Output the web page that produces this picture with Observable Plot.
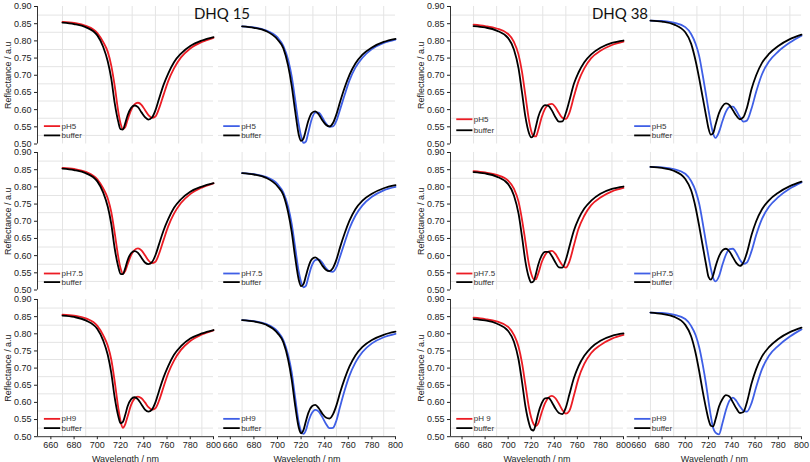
<!DOCTYPE html>
<html><head><meta charset="utf-8">
<script src="https://cdn.jsdelivr.net/npm/d3@7"></script>
<script src="https://cdn.jsdelivr.net/npm/@observablehq/plot@0.6"></script>
<style>
body{margin:0;background:#fff;}
#chart{position:relative;width:810px;height:462px;overflow:hidden;background:#fff;font-family:"Liberation Sans",Arial,sans-serif;}
#chart > svg{position:absolute;}
</style></head>
<body><div id="chart"></div>
<script>
// Wavelength grid (nm)
const wavelength = [670,680,690,700,705,709,712,715,718,720,722,724,726,729,732,735,738,741,744,747,750,753,757,761,766,772,780,790,800];
const xTicks = [660,680,700,720,740,760,780,800];
const yTicks = [0.50,0.55,0.60,0.65,0.70,0.75,0.80,0.85,0.90];
const xGrid = [670,690,710,730,750,770,790];
const yGrid = [0.525,0.575,0.625,0.675,0.725,0.775,0.825,0.875];
const groups = ["DHQ 15","DHQ 38"];
const legendLabels = ["pH5","pH7.5","pH9","pH 9","buffer"];

// DHQ 15, red panels (left column)
const dhq15a_pH5      = [0.855,0.852,0.844,0.823,0.797,0.768,0.728,0.668,0.595,0.560,0.544,0.549,0.570,0.598,0.615,0.620,0.614,0.599,0.584,0.576,0.580,0.602,0.643,0.683,0.720,0.752,0.778,0.797,0.809];
const dhq15a_pH5_buf  = [0.853,0.849,0.840,0.816,0.783,0.740,0.690,0.618,0.565,0.543,0.542,0.560,0.583,0.605,0.612,0.607,0.592,0.578,0.571,0.577,0.598,0.630,0.672,0.705,0.738,0.763,0.785,0.801,0.811];
const dhq15a_pH75     = [0.855,0.852,0.844,0.822,0.796,0.766,0.727,0.665,0.597,0.563,0.548,0.555,0.574,0.601,0.616,0.621,0.615,0.601,0.586,0.578,0.582,0.604,0.645,0.685,0.722,0.753,0.779,0.798,0.810];
const dhq15a_pH75_buf = [0.853,0.849,0.840,0.816,0.784,0.742,0.692,0.620,0.568,0.547,0.546,0.563,0.586,0.607,0.613,0.608,0.594,0.580,0.575,0.581,0.601,0.632,0.673,0.706,0.739,0.764,0.786,0.801,0.811];
const dhq15a_pH9      = [0.856,0.853,0.845,0.823,0.796,0.765,0.725,0.660,0.585,0.545,0.526,0.536,0.558,0.592,0.611,0.617,0.612,0.600,0.586,0.579,0.583,0.604,0.645,0.685,0.722,0.753,0.779,0.798,0.810];
const dhq15a_pH9_buf  = [0.853,0.849,0.839,0.814,0.781,0.738,0.686,0.613,0.560,0.539,0.543,0.563,0.588,0.609,0.615,0.609,0.594,0.579,0.573,0.579,0.600,0.632,0.673,0.706,0.739,0.764,0.786,0.801,0.811];
// DHQ 15, blue panels
const dhq15b_pH5      = [0.842,0.839,0.831,0.810,0.785,0.745,0.697,0.628,0.557,0.523,0.503,0.507,0.532,0.572,0.591,0.591,0.577,0.560,0.550,0.551,0.568,0.600,0.644,0.685,0.722,0.751,0.776,0.794,0.804];
const dhq15b_pH5_buf  = [0.842,0.838,0.829,0.804,0.778,0.728,0.670,0.595,0.527,0.509,0.516,0.540,0.566,0.590,0.595,0.586,0.569,0.556,0.551,0.561,0.587,0.622,0.665,0.701,0.734,0.760,0.781,0.797,0.806];
const dhq15b_pH75     = [0.840,0.837,0.829,0.808,0.783,0.742,0.693,0.623,0.553,0.523,0.508,0.512,0.535,0.570,0.587,0.589,0.579,0.564,0.555,0.553,0.567,0.597,0.639,0.679,0.716,0.746,0.771,0.790,0.800];
const dhq15b_pH75_buf = [0.840,0.836,0.827,0.802,0.776,0.726,0.670,0.594,0.530,0.511,0.517,0.540,0.565,0.589,0.595,0.587,0.571,0.559,0.555,0.564,0.589,0.624,0.666,0.702,0.735,0.760,0.780,0.796,0.805];
const dhq15b_pH9      = [0.840,0.837,0.829,0.807,0.781,0.738,0.688,0.613,0.542,0.515,0.508,0.518,0.542,0.568,0.578,0.573,0.557,0.538,0.525,0.526,0.548,0.587,0.636,0.678,0.716,0.747,0.772,0.790,0.800];
const dhq15b_pH9_buf  = [0.840,0.836,0.827,0.802,0.775,0.725,0.667,0.590,0.527,0.510,0.519,0.544,0.568,0.588,0.593,0.583,0.567,0.556,0.553,0.565,0.592,0.628,0.670,0.705,0.737,0.762,0.782,0.797,0.806];
// DHQ 38, red panels
const dhq38a_pH5      = [0.847,0.843,0.836,0.820,0.797,0.760,0.710,0.640,0.570,0.538,0.523,0.522,0.540,0.577,0.603,0.615,0.617,0.607,0.590,0.576,0.573,0.590,0.638,0.683,0.720,0.750,0.771,0.788,0.798];
const dhq38a_pH5_buf  = [0.843,0.839,0.830,0.808,0.775,0.720,0.650,0.578,0.532,0.519,0.525,0.550,0.578,0.603,0.613,0.611,0.597,0.578,0.565,0.566,0.590,0.625,0.675,0.708,0.738,0.761,0.780,0.794,0.801];
const dhq38a_pH75     = [0.846,0.842,0.835,0.818,0.795,0.757,0.705,0.640,0.575,0.547,0.532,0.531,0.547,0.580,0.602,0.612,0.614,0.605,0.588,0.572,0.565,0.582,0.630,0.678,0.716,0.747,0.769,0.787,0.797];
const dhq38a_pH75_buf = [0.843,0.839,0.830,0.808,0.775,0.722,0.655,0.582,0.536,0.522,0.525,0.546,0.573,0.600,0.611,0.611,0.598,0.580,0.566,0.565,0.588,0.625,0.673,0.707,0.737,0.760,0.780,0.794,0.801];
const dhq38a_pH9      = [0.847,0.843,0.836,0.820,0.797,0.762,0.715,0.650,0.585,0.555,0.537,0.531,0.538,0.570,0.598,0.614,0.619,0.612,0.596,0.578,0.567,0.575,0.620,0.670,0.712,0.744,0.767,0.786,0.797];
const dhq38a_pH9_buf  = [0.843,0.839,0.830,0.808,0.777,0.725,0.660,0.588,0.540,0.521,0.518,0.538,0.567,0.597,0.612,0.613,0.600,0.582,0.569,0.566,0.585,0.622,0.671,0.706,0.736,0.760,0.780,0.794,0.801];
// DHQ 38, blue panels
const dhq38b_pH5      = [0.859,0.858,0.853,0.840,0.820,0.790,0.755,0.700,0.640,0.598,0.560,0.530,0.518,0.535,0.567,0.594,0.608,0.609,0.596,0.578,0.565,0.568,0.603,0.652,0.703,0.740,0.769,0.795,0.815];
const dhq38b_pH5_buf  = [0.859,0.856,0.848,0.825,0.792,0.740,0.690,0.635,0.580,0.545,0.527,0.532,0.556,0.590,0.610,0.618,0.613,0.598,0.582,0.572,0.578,0.605,0.660,0.700,0.736,0.762,0.785,0.805,0.818];
const dhq38b_pH75     = [0.858,0.857,0.852,0.838,0.817,0.787,0.750,0.695,0.635,0.597,0.562,0.535,0.525,0.540,0.574,0.603,0.619,0.620,0.607,0.588,0.576,0.580,0.613,0.660,0.707,0.742,0.770,0.795,0.813];
const dhq38b_pH75_buf = [0.858,0.855,0.847,0.823,0.790,0.738,0.685,0.628,0.572,0.538,0.530,0.543,0.568,0.598,0.615,0.620,0.612,0.595,0.578,0.570,0.580,0.608,0.660,0.700,0.735,0.761,0.783,0.802,0.815];
const dhq38b_pH9      = [0.862,0.861,0.856,0.843,0.823,0.795,0.760,0.710,0.650,0.603,0.560,0.525,0.512,0.507,0.540,0.578,0.605,0.614,0.604,0.588,0.576,0.573,0.598,0.645,0.697,0.736,0.765,0.792,0.813];
const dhq38b_pH9_buf  = [0.862,0.858,0.850,0.826,0.793,0.742,0.690,0.632,0.580,0.550,0.532,0.530,0.550,0.588,0.610,0.621,0.617,0.600,0.582,0.569,0.572,0.600,0.655,0.697,0.734,0.761,0.785,0.805,0.818];

const RED = "#ec1c24", BLUE = "#3f5fe6", BLACK = "#000";

const cols = [
  {left: 0,   width: 216, ml: 37,  mr: 3, x0: 648.5, yAxis: true,  legX: 654},
  {left: 210, width: 190, ml: 8,   mr: 5, x0: 650,   yAxis: false, legX: 654},
  {left: 400, width: 228, ml: 50,  mr: 5, x0: 650,   yAxis: true,  legX: 655},
  {left: 620, width: 190, ml: 6.7, mr: 9, x0: 650,   yAxis: false, legX: 656}
];
const rows = [
  {top: 5.8,   bottom: 143.3, leg: [0.552, 0.525]},
  {top: 152,   bottom: 289.5, leg: [0.548, 0.523]},
  {top: 298.5, bottom: 435.7, leg: [0.552, 0.525]}
];

const panels = [
  {row:0,col:0,label:legendLabels[0],color:RED, s:dhq15a_pH5, b:dhq15a_pH5_buf},
  {row:1,col:0,label:legendLabels[1],color:RED, s:dhq15a_pH75,b:dhq15a_pH75_buf},
  {row:2,col:0,label:legendLabels[2],color:RED, s:dhq15a_pH9, b:dhq15a_pH9_buf},
  {row:0,col:1,label:legendLabels[0],color:BLUE,s:dhq15b_pH5, b:dhq15b_pH5_buf},
  {row:1,col:1,label:legendLabels[1],color:BLUE,s:dhq15b_pH75,b:dhq15b_pH75_buf},
  {row:2,col:1,label:legendLabels[2],color:BLUE,s:dhq15b_pH9, b:dhq15b_pH9_buf},
  {row:0,col:2,label:legendLabels[0],color:RED, s:dhq38a_pH5, b:dhq38a_pH5_buf, leg:[0.572,0.540]},
  {row:1,col:2,label:legendLabels[1],color:RED, s:dhq38a_pH75,b:dhq38a_pH75_buf},
  {row:2,col:2,label:legendLabels[3],color:RED, s:dhq38a_pH9, b:dhq38a_pH9_buf},
  {row:0,col:3,label:legendLabels[0],color:BLUE,s:dhq38b_pH5, b:dhq38b_pH5_buf},
  {row:1,col:3,label:legendLabels[1],color:BLUE,s:dhq38b_pH75,b:dhq38b_pH75_buf},
  {row:2,col:3,label:legendLabels[2],color:BLUE,s:dhq38b_pH9, b:dhq38b_pH9_buf}
];

const chart = document.getElementById("chart");
const MT = 8;

for (const p of panels) {
  const c = cols[p.col], r = rows[p.row];
  const bottom = p.row === 2;
  const mb = bottom ? 27 : 3;
  const inner = r.bottom - r.top;
  const h = MT + inner + mb;
  const sample = wavelength.map((w, i) => ({w, v: p.s[i]}));
  const buffer = wavelength.map((w, i) => ({w, v: p.b[i]}));
  const ly = p.leg || r.leg;
  const lx = c.legX;
  const legend = [
    {x1: lx, x2: lx + 14, y: ly[0], t: p.label, c: p.color},
    {x1: lx, x2: lx + 14, y: ly[1], t: legendLabels[4], c: BLACK}
  ];
  const marks = [
    Plot.ruleX(xGrid, {stroke: "#e4e4e4", strokeWidth: 1}),
    Plot.ruleY(yGrid, {stroke: "#e4e4e4", strokeWidth: 1})
  ];
  if (c.yAxis) marks.push(Plot.ruleX([c.x0], {stroke: "#333", strokeWidth: 1}));
  if (bottom) marks.push(Plot.ruleY([0.5], {stroke: "#333", strokeWidth: 1}));
  marks.push(
    Plot.line(sample, {x: "w", y: "v", stroke: p.color, strokeWidth: 1.8, curve: "monotone-x"}),
    Plot.line(buffer, {x: "w", y: "v", stroke: BLACK, strokeWidth: 1.8, curve: "monotone-x"}),
    Plot.link(legend, {x1: "x1", x2: "x2", y1: "y", y2: "y", stroke: "c", strokeWidth: 1.8}),
    Plot.text(legend, {x: d => d.x2 + 1.2, y: "y", text: "t", textAnchor: "start", fontSize: 8, fill: "#333"})
  );
  const svg = Plot.plot({
    width: c.width, height: h,
    marginLeft: c.ml, marginRight: c.mr, marginTop: MT, marginBottom: mb,
    style: {background: "transparent", overflow: "visible", fontSize: "9px", color: "#222", fontFamily: "'Liberation Sans', Arial, sans-serif"},
    x: {domain: [c.x0, 800], ticks: xTicks, tickFormat: d => String(d), tickSize: 3, tickPadding: 2,
        axis: bottom ? "bottom" : null, label: bottom ? "Wavelength / nm" : null, labelAnchor: "center", labelOffset: 25, labelArrow: "none"},
    y: {domain: [0.5, 0.9], ticks: yTicks, tickFormat: d3.format(".2f"), tickSize: 3, tickPadding: 3,
        axis: c.yAxis ? "left" : null, label: c.yAxis ? "Reflectance / a.u" : null, labelAnchor: "center", labelOffset: 33, labelArrow: "none"},
    marks
  });
  svg.style.left = c.left + "px";
  svg.style.top = (r.top - MT) + "px";
  chart.appendChild(svg);
}

// Group titles
const tsvg = d3.create("svg").attr("width", 810).attr("height", 30).style("left", "0px").style("top", "0px");
tsvg.selectAll("text").data([{t: groups[0], x: 222}, {t: groups[1], x: 620}]).join("text")
  .attr("x", d => d.x).attr("y", 19).attr("text-anchor", "middle")
  .attr("font-family", "Lato, 'Open Sans', sans-serif").attr("font-size", 15).attr("fill", "#111")
  .text(d => d.t);
chart.appendChild(tsvg.node());
</script>
</body></html>
